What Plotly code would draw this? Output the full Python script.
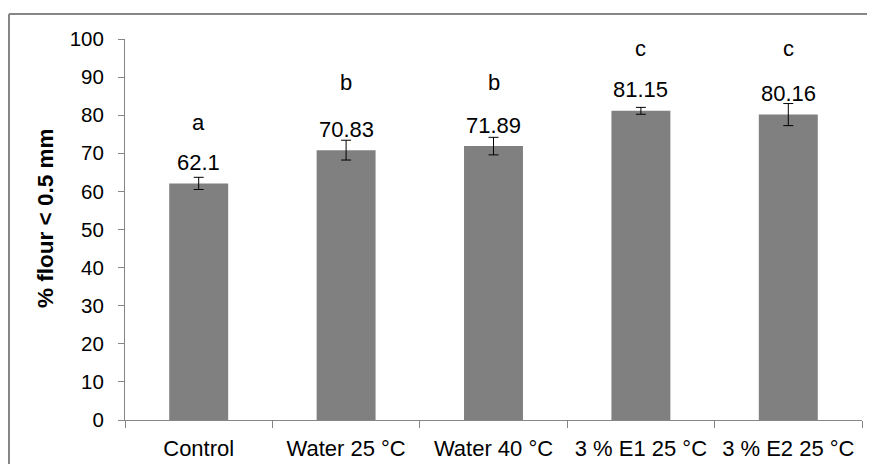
import plotly.graph_objects as go

categories = ["Control", "Water 25 °C", "Water 40 °C", "3 % E1 25 °C", "3 % E2 25 °C"]
values = [62.1, 70.83, 71.89, 81.15, 80.16]
errors = [1.6, 2.6, 2.3, 0.9, 2.9]
value_labels = ["62.1", "70.83", "71.89", "81.15", "80.16"]
letters = ["a", "b", "b", "c", "c"]
y_ticks = [0, 10, 20, 30, 40, 50, 60, 70, 80, 90, 100]
y_title = "% flour < 0.5 mm"

FONT = "Liberation Sans, Arial, sans-serif"
AXIS_COLOR = "#868686"

# page body has an 8px margin; figure sized to fill the rest of the window
W, H = 867, 456
L, R, T, B = 117, 13, 31, 44
PW, PH = W - L - R, H - T - B

fig = go.Figure()
fig.add_trace(go.Bar(
    x=categories, y=values,
    marker=dict(color="#808080", line=dict(width=0)),
    error_y=dict(type="data", array=errors, visible=True, color="black", thickness=1, width=5),
    width=0.4,
    hoverinfo="skip",
))

annotations = []
for c, v, lab in zip(categories, values, value_labels):
    annotations.append(dict(x=c, y=v, xref="x", yref="y", text=lab, showarrow=False,
                            yanchor="middle", yshift=21,
                            font=dict(family=FONT, size=22, color="black")))
# significance letters sit above the highest error bar of their group
group_top = {}
for v, e, let in zip(values, errors, letters):
    group_top[let] = max(group_top.get(let, 0), v + e)
for c, let in zip(categories, letters):
    annotations.append(dict(x=c, y=group_top[let] + 14.5, xref="x", yref="y", text=let, showarrow=False,
                            yanchor="middle",
                            font=dict(family=FONT, size=22, color="black")))
# y-axis title
annotations.append(dict(x=(37 - L) / PW, y=1 - (211 - T) / PH, xref="paper", yref="paper",
                        text="<b>" + y_title.replace("<", "&lt;") + "</b>", showarrow=False,
                        textangle=-90, xanchor="center", yanchor="middle",
                        font=dict(family=FONT, size=22.5, color="black")))

frame_x = (1 - L) / PW
frame_y = 1 + (T - 6) / PH
fig.update_layout(
    width=W, height=H,
    margin=dict(l=L, r=R, t=T, b=B, autoexpand=False),
    paper_bgcolor="white", plot_bgcolor="white",
    showlegend=False,
    annotations=annotations,
    shapes=[
        dict(type="line", xref="paper", yref="paper", x0=frame_x, x1=frame_x,
             y0=-(B + 10) / PH, y1=frame_y, line=dict(color="#868686", width=2), layer="below"),
        dict(type="line", xref="paper", yref="paper", x0=frame_x, x1=(W + 10 - L) / PW,
             y0=frame_y, y1=frame_y, line=dict(color="#868686", width=2), layer="below"),
    ],
    xaxis=dict(
        type="category", showline=True, linecolor=AXIS_COLOR, linewidth=1,
        ticks="outside", tickson="boundaries", ticklen=7, tickcolor=AXIS_COLOR,
        showgrid=False, zeroline=False, automargin=False,
        tickfont=dict(family=FONT, size=22, color="black"),
        ticklabelstandoff=9,
    ),
    yaxis=dict(
        range=[0, 100], tickvals=y_ticks, showline=True, linecolor=AXIS_COLOR, linewidth=1,
        ticks="outside", ticklen=6, tickcolor=AXIS_COLOR,
        showgrid=False, zeroline=False, automargin=False,
        tickfont=dict(family=FONT, size=20.5, color="black"),
        ticklabelstandoff=10,
    ),
)

fig.write_html("out.html", config={"displayModeBar": False},
               post_script="document.documentElement.style.overflow='hidden';document.body.style.overflow='hidden';")
